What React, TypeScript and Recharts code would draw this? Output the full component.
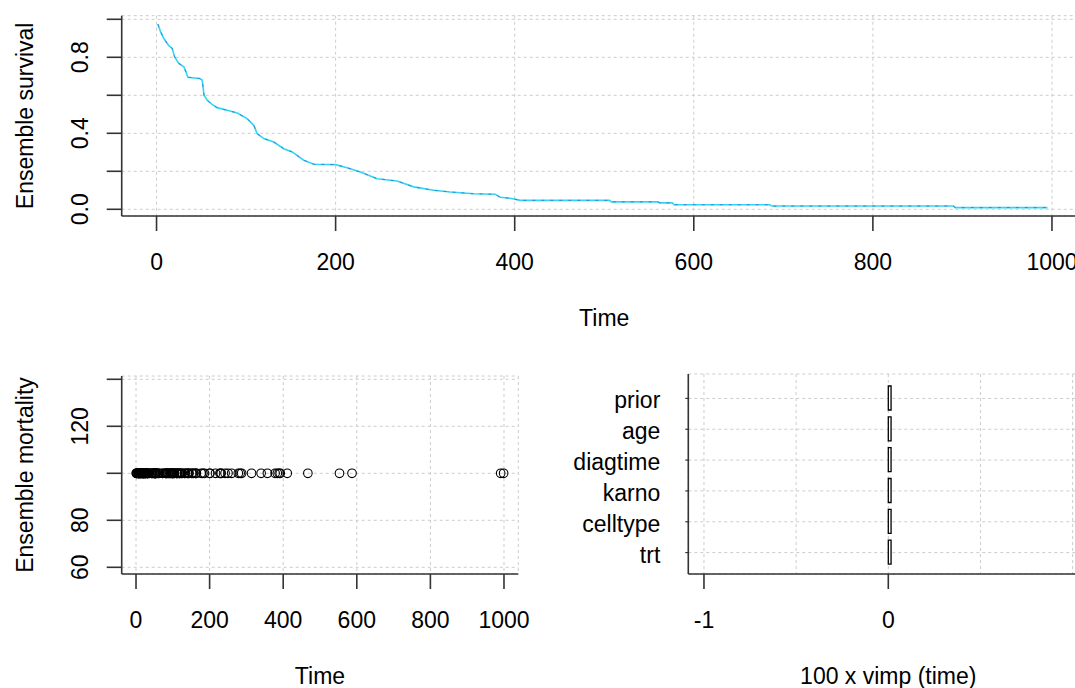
import React from 'react';
import { LineChart, Line, XAxis, YAxis, CartesianGrid, ScatterChart, Scatter, BarChart, Bar } from 'recharts';

const FONT = '"Liberation Sans", Arial, Helvetica, sans-serif';
const FS = 23;
const AXIS = '#333333';
const GRID = '#cccccc';

// ---- Top panel: ensemble survival curve ----
const SURV_TIME = [1.5, 4.5, 8, 13.7, 17.5, 20.1, 24.9, 30.5, 33.5, 35, 48, 51, 53, 56.6, 62, 67.7, 78.9, 90.1, 101.2, 108.6, 112.4, 119.8, 130.9, 142.1, 151.5, 164.4, 175.6, 199.8, 212.8, 227.7, 246.3, 268.6, 287.2, 309.5, 328.1, 354.1, 378.3, 383.9, 395, 406.3, 506, 508, 560, 562, 576, 578, 685, 687, 890, 892, 995];
const SURV_VALUE = [0.974, 0.935, 0.9, 0.861, 0.847, 0.803, 0.768, 0.75, 0.716, 0.695, 0.688, 0.68, 0.6, 0.574, 0.552, 0.535, 0.521, 0.507, 0.477, 0.442, 0.398, 0.372, 0.354, 0.319, 0.302, 0.258, 0.237, 0.235, 0.219, 0.196, 0.161, 0.149, 0.118, 0.1, 0.091, 0.082, 0.079, 0.063, 0.058, 0.047, 0.047, 0.039, 0.039, 0.034, 0.034, 0.024, 0.024, 0.017, 0.017, 0.009, 0.009];
const TIME_TICKS = [0, 200, 400, 600, 800, 1000];
const TIME_TICK_LABELS = ['0', '200', '400', '600', '800', '1000'];
const SURV_TICKS = [0, 0.2, 0.4, 0.6, 0.8, 1];
const SURV_TICK_LABELS = ['0.0', '', '0.4', '', '0.8', ''];

// ---- Bottom-left panel: ensemble mortality by time ----
const MORT_TIME = [72, 411, 228, 126, 118, 10, 82, 110, 314, 100, 42, 8, 144, 25, 11, 30, 384, 4, 54, 13, 123, 97, 153, 59, 117, 16, 151, 22, 56, 21, 18, 139, 20, 31, 52, 287, 18, 51, 122, 27, 54, 7, 63, 392, 10, 8, 92, 35, 117, 132, 12, 162, 3, 95, 177, 162, 216, 553, 278, 12, 260, 200, 156, 182, 143, 105, 103, 250, 100, 999, 112, 87, 231, 242, 991, 111, 1, 587, 389, 33, 25, 357, 467, 201, 1, 30, 44, 283, 15, 25, 103, 21, 13, 87, 2, 20, 7, 24, 99, 8, 99, 61, 25, 95, 80, 51, 29, 24, 18, 83, 31, 51, 90, 52, 73, 8, 36, 48, 7, 140, 186, 84, 19, 45, 80, 52, 164, 19, 53, 15, 43, 340, 133, 111, 231, 378, 49];
const MORT_LEVEL = 100; // every point sits at ensemble mortality 100
const MORT_TICKS = [60, 80, 100, 120, 140];
const MORT_TICK_LABELS = ['60', '80', '', '120', ''];

// ---- Bottom-right panel: variable importance ----
const VARIABLES = ['prior', 'age', 'diagtime', 'karno', 'celltype', 'trt'];
const VIMP = [0.015, 0.015, 0.015, 0.015, 0.015, 0.015];
const VIMP_TICKS = [-1, -0.5, 0, 0.5, 1];
const VIMP_TICK_LABELS = ['-1', '', '0', '', ''];
const VIMP_TICK_MARKS = [true, false, true, false, false];

const survData = SURV_TIME.map((t, i) => ({ t, s: SURV_VALUE[i] }));
const mortData = MORT_TIME.map((t) => ({ t, m: MORT_LEVEL }));
const vimpData = VARIABLES.map((name, i) => ({ name, v: VIMP[i] }));

const findIdx = (ticks: number[], v: number) => ticks.findIndex((t) => Math.abs(t - v) < 1e-6);

function makeXTick(ticks: number[], labels: string[], marks?: boolean[]) {
  return (props: any) => {
    const { x, y, payload } = props;
    const i = findIdx(ticks, payload.value);
    const label = i >= 0 ? labels[i] : '';
    const mark = marks ? (i >= 0 ? marks[i] : false) : true;
    return (
      <g>
        {mark && <line x1={x} y1={y} x2={x} y2={y + 15} stroke={AXIS} strokeWidth={1.6} />}
        {label && (
          <text x={x} y={y + 54} textAnchor="middle" fontSize={FS} fontFamily={FONT} fill="#000">
            {label}
          </text>
        )}
      </g>
    );
  };
}

function makeYTick(ticks: number[], labels: string[]) {
  return (props: any) => {
    const { x, y, payload } = props;
    const i = findIdx(ticks, payload.value);
    const label = i >= 0 ? labels[i] : '';
    const bx = x - 34;
    return (
      <g>
        <line x1={x} y1={y} x2={x - 15} y2={y} stroke={AXIS} strokeWidth={1.6} />
        {label && (
          <text x={bx} y={y} transform={`rotate(-90 ${bx} ${y})`} textAnchor="middle" fontSize={FS} fontFamily={FONT} fill="#000">
            {label}
          </text>
        )}
      </g>
    );
  };
}

const VarTick = (props: any) => {
  const { x, y, payload } = props;
  return (
    <g>
      <line x1={x} y1={y} x2={x - 3} y2={y} stroke={AXIS} strokeWidth={1.2} />
      <text x={x - 28} y={y + 10} textAnchor="end" fontSize={FS} fontFamily={FONT} fill="#000">
        {payload.value}
      </text>
    </g>
  );
};

const XTitle = (props: any) => {
  const vb = props.viewBox || {};
  return (
    <text x={vb.x + vb.width / 2} y={vb.y + 109.5} textAnchor="middle" fontSize={FS} fontFamily={FONT} fill="#000">
      {props.text}
    </text>
  );
};

const YTitle = (props: any) => {
  const vb = props.viewBox || {};
  const cx = vb.x + vb.width - 89;
  const cy = vb.y + vb.height / 2;
  return (
    <text x={cx} y={cy} transform={`rotate(-90 ${cx} ${cy})`} textAnchor="middle" fontSize={FS} fontFamily={FONT} fill="#000">
      {props.text}
    </text>
  );
};

const Ring = (props: any) => (
  <circle cx={props.cx} cy={props.cy} r={4.3} fill="none" stroke="#000" strokeWidth={1.1} />
);

const TIME_DOMAIN: [number, number] = [-38.9, 1038.9];

export default function App() {
  return (
    <div style={{ position: 'absolute', left: 0, top: 0, width: 1075, height: 688, overflow: 'hidden', background: '#fff' }}>
      {/* Top panel */}
      <div style={{ position: 'absolute', left: 0, top: 0 }}>
        <LineChart width={1100} height={340} data={survData} margin={{ top: 15.7, right: 13.2, bottom: 0, left: 0 }}>
          <CartesianGrid stroke={GRID} strokeDasharray="3 3" strokeWidth={1} />
          <XAxis
            dataKey="t"
            type="number"
            domain={TIME_DOMAIN}
            allowDataOverflow
            ticks={TIME_TICKS}
            interval={0}
            height={124}
            tickSize={0}
            tickMargin={0}
            tickLine={false}
            axisLine={{ stroke: AXIS, strokeWidth: 1.6 }}
            tick={makeXTick(TIME_TICKS, TIME_TICK_LABELS)}
            label={<XTitle text="Time" />}
          />
          <XAxis xAxisId="top" orientation="top" type="number" domain={TIME_DOMAIN} allowDataOverflow height={0} tick={false} tickLine={false} axisLine={{ stroke: AXIS, strokeWidth: 1.6 }} />
          <YAxis
            dataKey="s"
            type="number"
            domain={[-0.0353, 1.0189]}
            allowDataOverflow
            ticks={SURV_TICKS}
            interval={0}
            width={121.7}
            tickSize={0}
            tickMargin={0}
            tickLine={false}
            axisLine={{ stroke: AXIS, strokeWidth: 1.6 }}
            tick={makeYTick(SURV_TICKS, SURV_TICK_LABELS)}
            label={<YTitle text="Ensemble survival" />}
          />
          <Line dataKey="s" type="linear" stroke="#2fd8f2" strokeWidth={1.6} dot={false} isAnimationActive={false} />
          <Line dataKey="s" type="linear" stroke="#3f7fd8" strokeWidth={1} strokeDasharray="3 6" dot={false} isAnimationActive={false} />
        </LineChart>
      </div>

      {/* Bottom-left panel */}
      <div style={{ position: 'absolute', left: 0, top: 340 }}>
        <ScatterChart width={540} height={348} margin={{ top: 36, right: 21.7, bottom: 0, left: 0 }}>
          <CartesianGrid stroke={GRID} strokeDasharray="3 3" strokeWidth={1} />
          <XAxis
            dataKey="t"
            type="number"
            domain={TIME_DOMAIN}
            allowDataOverflow
            ticks={TIME_TICKS}
            interval={0}
            height={114}
            tickSize={0}
            tickMargin={0}
            tickLine={false}
            axisLine={{ stroke: AXIS, strokeWidth: 1.6 }}
            tick={makeXTick(TIME_TICKS, TIME_TICK_LABELS)}
            label={<XTitle text="Time" />}
          />
          <XAxis xAxisId="top" orientation="top" type="number" domain={TIME_DOMAIN} allowDataOverflow height={0} tick={false} tickLine={false} axisLine={{ stroke: AXIS, strokeWidth: 1.6 }} />
          <YAxis
            dataKey="m"
            type="number"
            domain={[57.15, 141.4]}
            allowDataOverflow
            ticks={MORT_TICKS}
            interval={0}
            width={121.7}
            tickSize={0}
            tickMargin={0}
            tickLine={false}
            axisLine={{ stroke: AXIS, strokeWidth: 1.6 }}
            tick={makeYTick(MORT_TICKS, MORT_TICK_LABELS)}
            label={<YTitle text="Ensemble mortality" />}
          />
          <YAxis yAxisId="right" orientation="right" type="number" domain={[57.15, 141.4]} allowDataOverflow width={0} tick={false} tickLine={false} axisLine={{ stroke: AXIS, strokeWidth: 1.6 }} />
          <Scatter data={mortData} dataKey="m" shape={Ring} isAnimationActive={false} />
        </ScatterChart>
      </div>

      {/* Bottom-right panel */}
      <div style={{ position: 'absolute', left: 540, top: 340 }}>
        <BarChart layout="vertical" width={560} height={348} data={vimpData} margin={{ top: 34, right: 11.7, bottom: 0, left: 0 }}>
          <CartesianGrid stroke={GRID} strokeDasharray="3 3" strokeWidth={1} />
          <XAxis
            dataKey="v"
            type="number"
            domain={[-1.085, 1.085]}
            allowDataOverflow
            ticks={VIMP_TICKS}
            interval={0}
            height={114}
            tickSize={0}
            tickMargin={0}
            tickLine={false}
            axisLine={{ stroke: AXIS, strokeWidth: 1.6 }}
            tick={makeXTick(VIMP_TICKS, VIMP_TICK_LABELS, VIMP_TICK_MARKS)}
            label={<XTitle text="100 x vimp (time)" />}
          />
          <XAxis xAxisId="top" orientation="top" type="number" domain={[-1.085, 1.085]} allowDataOverflow height={0} tick={false} tickLine={false} axisLine={{ stroke: AXIS, strokeWidth: 1.6 }} />
          <YAxis
            dataKey="name"
            type="category"
            width={148.3}
            padding={{ top: 9, bottom: 6 }}
            interval={0}
            tickSize={0}
            tickMargin={0}
            tickLine={false}
            axisLine={{ stroke: AXIS, strokeWidth: 1.6 }}
            tick={VarTick}
          />
          <Bar dataKey="v" barSize={24} fill="#ffffff" stroke="#000" strokeWidth={1.3} isAnimationActive={false} />
        </BarChart>
      </div>
    </div>
  );
}
